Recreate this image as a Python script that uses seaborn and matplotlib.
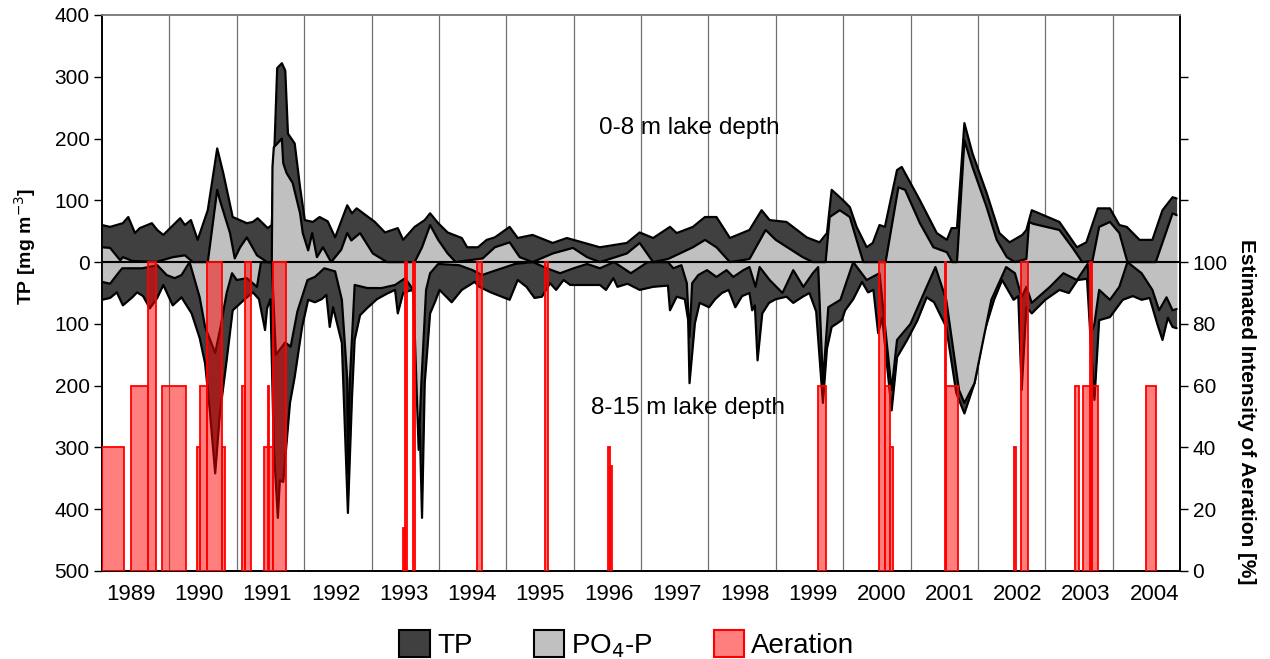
import numpy as np
import pandas as pd
import matplotlib
matplotlib.use("Agg")
import matplotlib.pyplot as plt
from matplotlib.patches import Patch
import seaborn as sns

# ---------------- data ----------------
# upper layer (0-8 m) total phosphorus
up_tp_t = [1989.00, 1989.12, 1989.31, 1989.39, 1989.49, 1989.56, 1989.74, 1989.82, 1989.91, 1990.16,
           1990.23, 1990.32, 1990.42, 1990.57, 1990.71, 1990.80, 1990.94, 1991.15, 1991.24, 1991.31,
           1991.46, 1991.52, 1991.60, 1991.67, 1991.72, 1991.76, 1991.86, 1991.94, 1992.01, 1992.13,
           1992.23, 1992.35, 1992.46, 1992.64, 1992.71, 1992.78, 1993.05, 1993.20, 1993.39, 1993.47,
           1993.64, 1993.79, 1993.87, 1993.99, 1994.13, 1994.34, 1994.42, 1994.58, 1994.71, 1994.83,
           1995.05, 1995.17, 1995.39, 1995.69, 1995.90, 1996.39, 1996.79, 1996.98, 1997.18, 1997.43,
           1997.53, 1997.77, 1997.95, 1998.12, 1998.32, 1998.61, 1998.79, 1998.91, 1999.16, 1999.46,
           1999.65, 1999.76, 1999.83, 2000.00, 2000.10, 2000.20, 2000.35, 2000.44, 2000.54, 2000.62,
           2000.80, 2000.87, 2001.14, 2001.39, 2001.54, 2001.61, 2001.69, 2001.80, 2001.92, 2002.13,
           2002.32, 2002.47, 2002.66, 2002.72, 2002.80, 2003.21, 2003.47, 2003.61, 2003.78, 2003.96,
           2004.10, 2004.21, 2004.40, 2004.59, 2004.74, 2004.89, 2004.95]
up_tp_v = [60, 57, 63, 73, 47, 55, 63, 52, 44, 71,
           60, 68, 36, 84, 184, 144, 73, 63, 65, 71,
           55, 60, 314, 322, 310, 208, 192, 121, 68, 65,
           73, 66, 40, 92, 79, 87, 65, 48, 55, 36,
           57, 68, 79, 63, 48, 39, 24, 24, 36, 40,
           57, 39, 44, 31, 39, 24, 31, 48, 39, 57,
           47, 57, 73, 73, 39, 52, 84, 68, 65, 40,
           32, 47, 117, 100, 89, 57, 24, 31, 60, 57,
           149, 154, 100, 47, 36, 55, 55, 225, 176, 112,
           47, 32, 44, 52, 84, 65, 24, 32, 87, 87,
           60, 57, 36, 36, 84, 105, 103]

# upper layer PO4-P
up_po4_t = [1989.00, 1989.12, 1989.27, 1989.31, 1989.45, 1989.80, 1990.05, 1990.23, 1990.35, 1990.57,
            1990.71, 1990.75, 1990.90, 1990.97, 1991.05, 1991.15, 1991.30, 1991.45, 1991.52, 1991.53,
            1991.55, 1991.67, 1991.69, 1991.74, 1991.83, 1991.94, 1991.98, 1992.06, 1992.12, 1992.19,
            1992.28, 1992.40, 1992.55, 1992.64, 1992.70, 1992.83, 1993.02, 1993.23, 1993.64, 1993.75,
            1993.87, 1993.99, 1994.13, 1994.25, 1994.65, 1994.83, 1995.05, 1995.20, 1995.39, 1995.69,
            1995.99, 1996.20, 1996.39, 1996.79, 1996.98, 1997.18, 1997.40, 1997.77, 1997.95, 1998.12,
            1998.32, 1998.61, 1998.85, 1999.00, 1999.40, 1999.55, 1999.74, 1999.80, 1999.95, 2000.10,
            2000.20, 2000.30, 2000.63, 2000.82, 2000.92, 2001.14, 2001.34, 2001.54, 2001.62, 2001.69,
            2001.80, 2001.92, 2002.13, 2002.28, 2002.43, 2002.55, 2002.72, 2002.76, 2002.82, 2003.21,
            2003.40, 2003.55, 2003.70, 2003.80, 2003.96, 2004.10, 2004.22, 2004.64, 2004.89, 2004.95]
up_po4_v = [24, 23, 3, 8, 2, 0, 8, 11, 0, 0,
            117, 100, 47, 6, 24, 40, 11, 0, 0, 154,
            186, 200, 160, 144, 128, 79, 47, 19, 47, 8,
            24, 0, 20, 47, 35, 47, 14, 0, 0, 24,
            60, 36, 14, 0, 6, 24, 32, 8, 0, 14,
            23, 8, 0, 14, 31, 0, 5, 24, 36, 24,
            0, 5, 52, 36, 8, 0, 0, 73, 84, 73,
            36, 0, 0, 121, 117, 63, 24, 16, 0, 0,
            197, 154, 89, 36, 8, 0, 5, 65, 62, 52,
            24, 0, 2, 57, 65, 47, 0, 0, 79, 76]

# lower layer (8-15 m) total phosphorus
lo_tp_t = [1989.00, 1989.12, 1989.22, 1989.31, 1989.45, 1989.52, 1989.61, 1989.71, 1989.82, 1989.91,
           1990.05, 1990.18, 1990.33, 1990.45, 1990.53, 1990.60, 1990.68, 1990.75, 1990.85, 1990.94,
           1991.15, 1991.24, 1991.33, 1991.42, 1991.45, 1991.50, 1991.55, 1991.61, 1991.64, 1991.69,
           1991.74, 1991.79, 1991.86, 1991.97, 1992.06, 1992.16, 1992.26, 1992.33, 1992.38, 1992.43,
           1992.56, 1992.65, 1992.71, 1992.75, 1992.83, 1992.93, 1993.08, 1993.23, 1993.35, 1993.39,
           1993.47, 1993.60, 1993.67, 1993.75, 1993.79, 1993.87, 1993.94, 1994.01, 1994.19, 1994.34,
           1994.53, 1994.60, 1994.77, 1995.05, 1995.17, 1995.30, 1995.42, 1995.53, 1995.65, 1995.74,
           1995.85, 1995.95, 1996.39, 1996.48, 1996.59, 1996.65, 1996.80, 1996.98, 1997.18, 1997.40,
           1997.43, 1997.53, 1997.65, 1997.70, 1997.72, 1997.80, 1997.87, 1998.01, 1998.10, 1998.20,
           1998.30, 1998.40, 1998.50, 1998.61, 1998.65, 1998.69, 1998.73, 1998.80, 1998.90, 1999.00,
           1999.16, 1999.26, 1999.40, 1999.50, 1999.60, 1999.70, 1999.76, 1999.83, 1999.98, 2000.03,
           2000.15, 2000.28, 2000.37, 2000.45, 2000.52, 2000.58, 2000.72, 2000.80, 2000.95, 2001.10,
           2001.24, 2001.35, 2001.53, 2001.68, 2001.80, 2001.95, 2002.09, 2002.24, 2002.36, 2002.53,
           2002.60, 2002.65, 2002.72, 2002.80, 2003.00, 2003.21, 2003.35, 2003.48, 2003.62, 2003.68,
           2003.73, 2003.80, 2003.96, 2004.15, 2004.30, 2004.43, 2004.55, 2004.66, 2004.74, 2004.82,
           2004.89, 2004.95]
lo_tp_v = [61, 58, 49, 70, 57, 49, 55, 75, 58, 37,
           70, 57, 83, 123, 164, 240, 342, 245, 159, 78,
           57, 49, 60, 110, 75, 60, 300, 414, 353, 356,
           293, 228, 186, 105, 61, 65, 60, 53, 105, 73,
           131, 406, 220, 126, 86, 75, 60, 51, 45, 83,
           50, 45, 60, 414, 196, 83, 65, 45, 65, 45,
           32, 40, 49, 61, 29, 40, 58, 56, 34, 45,
           29, 37, 37, 45, 26, 40, 35, 45, 40, 38,
           78, 56, 60, 94, 196, 99, 66, 73, 60, 50,
           45, 73, 55, 50, 78, 70, 159, 83, 66, 60,
           56, 66, 56, 50, 80, 228, 140, 105, 94, 78,
           60, 32, 49, 45, 115, 90, 240, 154, 126, 95,
           57, 65, 105, 212, 245, 196, 115, 61, 29, 61,
           55, 207, 73, 83, 61, 45, 50, 29, 27, 138,
           223, 94, 89, 61, 55, 61, 58, 99, 126, 90,
           105, 107]

# lower layer PO4-P
lo_po4_t = [1989.00, 1989.12, 1989.24, 1989.30, 1989.60, 1989.82, 1989.96, 1990.08, 1990.18, 1990.30,
            1990.45, 1990.53, 1990.68, 1990.76, 1990.85, 1990.93, 1991.00, 1991.15, 1991.30, 1991.36,
            1991.52, 1991.58, 1991.72, 1991.80, 1991.90, 1992.05, 1992.16, 1992.30, 1992.46, 1992.56,
            1992.64, 1992.65, 1992.68, 1992.75, 1992.94, 1993.15, 1993.35, 1993.50, 1993.62, 1993.70,
            1993.74, 1993.81, 1993.87, 1993.99, 1994.30, 1994.50, 1994.64, 1994.80, 1995.13, 1995.40,
            1995.60, 1995.80, 1996.00, 1996.20, 1996.39, 1996.60, 1996.85, 1997.10, 1997.40, 1997.48,
            1997.60, 1997.68, 1997.72, 1997.76, 1997.85, 1997.98, 1998.12, 1998.27, 1998.37, 1998.52,
            1998.61, 1998.70, 1998.76, 1998.91, 1999.10, 1999.26, 1999.41, 1999.55, 1999.63, 1999.70,
            1999.78, 1999.96, 2000.15, 2000.35, 2000.54, 2000.72, 2000.80, 2001.00, 2001.20, 2001.37,
            2001.53, 2001.72, 2001.80, 2001.95, 2002.20, 2002.42, 2002.55, 2002.65, 2002.72, 2002.80,
            2003.07, 2003.27, 2003.47, 2003.63, 2003.68, 2003.73, 2003.80, 2003.96, 2004.10, 2004.22,
            2004.43, 2004.59, 2004.69, 2004.80, 2004.89, 2004.95]
lo_po4_v = [32, 35, 18, 10, 10, 5, 21, 26, 21, 0,
            57, 105, 147, 105, 50, 18, 29, 26, 40, 0,
            0, 150, 130, 137, 80, 29, 24, 10, 15, 61,
            190, 342, 190, 37, 42, 42, 37, 26, 45, 304,
            196, 45, 18, 3, 5, 13, 21, 15, 3, 0,
            10, 18, 10, 3, 10, 0, 18, 0, 0, 10,
            5, 34, 121, 34, 21, 13, 24, 13, 24, 13,
            8, 40, 8, 29, 50, 13, 40, 18, 8, 196,
            73, 61, 0, 29, 18, 207, 126, 100, 50, 8,
            61, 207, 228, 196, 61, 8, 18, 57, 40, 66,
            40, 18, 29, 3, 115, 100, 45, 61, 40, 0,
            18, 45, 78, 57, 78, 76]

# aeration periods (start, end, intensity %)
aer_start = [1989.00, 1989.43, 1989.68, 1989.89, 1990.41, 1990.45, 1990.56, 1990.78, 1991.08, 1991.12,
             1991.40, 1991.54, 1991.46, 1993.47, 1993.50, 1993.61, 1994.56, 1995.57, 1996.51, 1996.54,
             1999.62, 2000.53, 2000.62, 2000.69, 2001.51, 2001.53, 2002.53, 2002.64, 2003.44, 2003.56,
             2003.66, 2003.70, 2004.50]
aer_end = [1989.33, 1989.68, 1989.80, 1990.25, 1990.45, 1990.56, 1990.78, 1990.82, 1991.12, 1991.21,
           1991.54, 1991.73, 1991.48, 1993.50, 1993.53, 1993.64, 1994.64, 1995.62, 1996.54, 1996.57,
           1999.74, 2000.62, 2000.69, 2000.74, 2001.53, 2001.70, 2002.56, 2002.74, 2003.50, 2003.66,
           2003.70, 2003.78, 2004.65]
aer_pct = [40, 60, 100, 60, 40, 60, 100, 40, 60, 100,
           40, 100, 60, 14, 100, 100, 100, 100, 40, 34,
           60, 100, 60, 40, 100, 60, 40, 100, 60, 60,
           100, 60, 60]

years = list(range(1989, 2005))
left_ticks = [-500, -400, -300, -200, -100, 0, 100, 200, 300, 400]
right_ticks = [0, 20, 40, 60, 80, 100, 120, 140, 160]
right_labels = ["0", "20", "40", "60", "80", "100", "", "", ""]

# ---------------- style ----------------
sns.set_theme(style="white")
plt.rcParams["font.family"] = ["Liberation Sans", "DejaVu Sans"]
plt.rcParams["text.color"] = "black"
plt.rcParams["axes.labelcolor"] = "black"

W, H = 1270, 659
fig = plt.figure(figsize=(W / 100, H / 100), dpi=100)
ax = fig.add_axes([102 / W, 1 - 571 / H, (1180 - 102) / W, (571 - 15) / H])

TP_C = "#404040"
PO4_C = "#c0c0c0"

up_tp = pd.DataFrame({"t": up_tp_t, "v": up_tp_v})
up_po = pd.DataFrame({"t": up_po4_t, "v": up_po4_v})
lo_tp = pd.DataFrame({"t": lo_tp_t, "v": [-v for v in lo_tp_v]})
lo_po = pd.DataFrame({"t": lo_po4_t, "v": [-v for v in lo_po4_v]})

for df_tp, df_po in [(up_tp, up_po), (lo_tp, lo_po)]:
    ax.fill_between(df_tp["t"], 0, df_tp["v"], color=TP_C, lw=0, zorder=2)
    sns.lineplot(data=df_tp, x="t", y="v", ax=ax, color="black", lw=1.6, zorder=3,
                 estimator=None, sort=False)
    ax.fill_between(df_po["t"], 0, df_po["v"], color=PO4_C, lw=0, zorder=4)
    sns.lineplot(data=df_po, x="t", y="v", ax=ax, color="black", lw=1.6, zorder=5,
                 estimator=None, sort=False)

ax.axhline(0, color="black", lw=1.5, zorder=6)

ax.set_xlim(1989, 2005)
ax.set_ylim(-500, 400)
ax.set_yticks(left_ticks)
ax.set_yticklabels([str(abs(v)) for v in left_ticks])
label_pos = [y + 0.43 + 0.0125 * (y - 1989) for y in years]
ax.set_xticks(label_pos)
ax.set_xticklabels([str(y) for y in years])
ax.grid(False)
for yv in range(1990, 2005):
    ax.axvline(yv, color="#707070", lw=0.9, zorder=1)
ax.tick_params(axis="x", which="both", length=0, pad=9, labelsize=16, colors="black")
ax.tick_params(axis="y", which="major", length=6, width=1, direction="out", left=True,
               labelsize=15, pad=3, colors="black")
ax.set_xlabel("")
ax.set_ylabel("TP [mg m$^{-3}$]", fontsize=14, fontweight="bold", color="black")
ax.yaxis.set_label_coords(-0.059, 0.583)
for s in ax.spines.values():
    s.set_color("black")
    s.set_linewidth(1.2)
ax.spines["top"].set_color("#808080")

ax.text(1997.71, 217, "0-8 m lake depth", fontsize=17.5, ha="center", va="center",
        color="black", zorder=7)
ax.text(1997.70, -236, "8-15 m lake depth", fontsize=17.5, ha="center", va="center",
        color="black", zorder=7)

# aeration on the secondary axis
ax2 = ax.twinx()
widths = [e - s for s, e in zip(aer_start, aer_end)]
ax2.bar(aer_start, aer_pct, width=widths, align="edge", facecolor=(1, 0, 0, 0.5),
        edgecolor="red", linewidth=1.3, zorder=3)
ax2.set_ylim(0, 180)
ax2.set_yticks(right_ticks)
ax2.set_yticklabels(right_labels)
ax2.tick_params(axis="y", length=6, width=1, direction="out", right=True, labelsize=15,
                pad=3, colors="black")
ax2.set_ylabel("Estimated Intensity of Aeration [%]", fontsize=15, fontweight="bold",
               rotation=270, va="center", color="black")
ax2.yaxis.set_label_coords(1.062, 0.286)
ax2.grid(False)
for s in ax2.spines.values():
    s.set_color("black")
    s.set_linewidth(1.2)
ax2.spines["top"].set_color("#808080")

handles = [Patch(facecolor=TP_C, edgecolor="black", lw=1.5),
           Patch(facecolor=PO4_C, edgecolor="black", lw=1.5),
           Patch(facecolor=(1, 0, 0, 0.5), edgecolor="red", lw=1.5)]
fig.legend(handles, ["TP", "PO$_4$-P", "Aeration"], loc="center",
           bbox_to_anchor=(627 / W, 1 - 645 / H), ncol=3, frameon=False, fontsize=20,
           handlelength=1.1, handleheight=1.1, handletextpad=0.25, columnspacing=2.2,
           borderpad=0.1)

fig.savefig("out.png", dpi=100)
